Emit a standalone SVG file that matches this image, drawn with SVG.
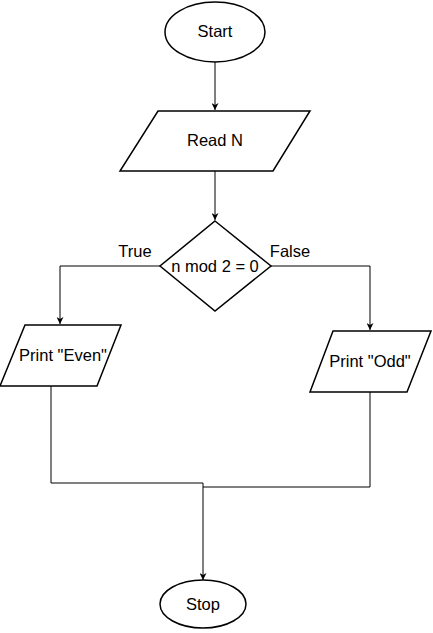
<svg xmlns="http://www.w3.org/2000/svg" width="433" height="633" viewBox="0 0 433 633">
<style>
.s{fill:#fff;stroke:#000;stroke-width:1.5}
.c{fill:none;stroke:#000;stroke-width:1}
text{font-family:"Liberation Sans",Arial,sans-serif;font-size:16.5px;fill:#000}
.m{text-anchor:middle;dominant-baseline:central}
</style>
<defs>
<marker id="a" viewBox="0 0 10 10" refX="10" refY="5" markerWidth="7" markerHeight="7" markerUnits="userSpaceOnUse" orient="auto">
<path d="M0,0 L10,5 L0,10 L3,5 Z" fill="#000"/>
</marker>
</defs>
<rect width="433" height="633" fill="#fff"/>
<g id="connectors">
<path class="c" d="M215,62 V110" marker-end="url(#a)"/>
<path class="c" d="M215,171 V220" marker-end="url(#a)"/>
<path class="c" d="M160,266 H60 V324" marker-end="url(#a)"/>
<path class="c" d="M271,266 H370 V330" marker-end="url(#a)"/>
<path class="c" d="M51,386 V483 H203"/>
<path class="c" d="M370,392 V487 H203"/>
<path class="c" d="M203,483 V580" marker-end="url(#a)"/>
<text x="135" y="251" class="m">True</text>
<text x="290" y="251" class="m">False</text>
</g>
<g id="start">
<ellipse class="s" cx="215" cy="32" rx="50" ry="30"/>
<text x="215" y="31" class="m">Start</text>
</g>
<g id="read">
<polygon class="s" points="158,111 310,111 273,171 120,171"/>
<text x="215" y="140" class="m">Read N</text>
</g>
<g id="decision">
<polygon class="s" points="215,221 271,266 215,311 160,266"/>
<text x="215" y="266" class="m">n mod 2 = 0</text>
</g>
<g id="even">
<polygon class="s" points="25,325 121,325 97,386 0,386"/>
<text x="63" y="355" class="m">Print "Even"</text>
</g>
<g id="odd">
<polygon class="s" points="333,331 431,331 407,392 310,392"/>
<text x="370" y="361" class="m">Print "Odd"</text>
</g>
<g id="stop">
<ellipse class="s" cx="203" cy="604" rx="43" ry="24"/>
<text x="203" y="604" class="m">Stop</text>
</g>
</svg>
